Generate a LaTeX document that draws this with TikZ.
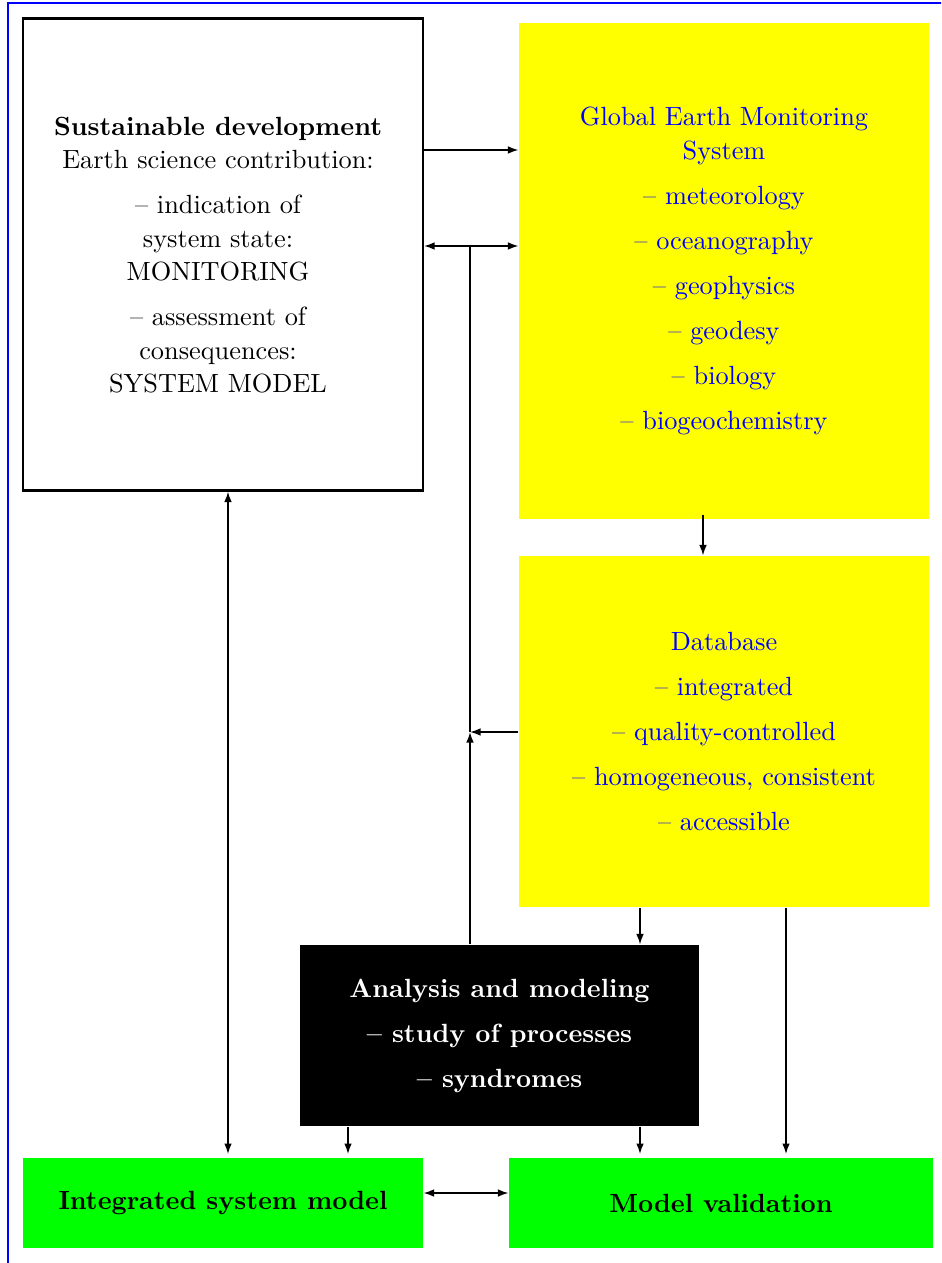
\documentclass[tikz,border=0pt]{standalone}
\usetikzlibrary{arrows.meta}
\definecolor{ybox}{RGB}{255,255,0}
\definecolor{gbox}{RGB}{0,255,0}
\definecolor{btext}{RGB}{0,0,255}
\tikzset{
  arr/.style={line width=0.6pt,-{Latex[length=4pt,width=2.9pt]}},
  darr/.style={line width=0.6pt,{Latex[length=4pt,width=2.9pt]}-{Latex[length=4pt,width=2.9pt]}},
  plain/.style={line width=0.6pt},
  whitebox/.style={draw=black,line width=0.8pt,fill=white,inner sep=0pt,align=center},
  yellowbox/.style={fill=ybox,text=btext,inner sep=0pt,align=center},
  blackbox/.style={fill=black,text=white,inner sep=0pt,align=center,font=\bfseries},
  greenbox/.style={fill=gbox,text=black,inner sep=0pt,align=center,font=\bfseries},
}
\begin{document}
\begin{tikzpicture}[x=0.38pt,y=-0.38pt]
\useasboundingbox (0,0) rectangle (941,1263);
\clip (0,0) rectangle (941,1263);
\draw[draw=btext,line width=0.9pt] (8,3) rectangle (1000,1300);

\node[whitebox,minimum width=152pt,minimum height=179.36pt] (L) at (223,254.5) {};
\node[align=center] (Lt) at (218,255) {\textbf{Sustainable development}\\[0.7pt]
Earth science contribution:\\[5.1pt]
-- indication of\\[0.7pt] system state:\\[0.7pt] MONITORING\\[5.1pt]
-- assessment of\\[0.7pt] consequences:\\[0.7pt] SYSTEM MODEL};

\node[yellowbox,minimum width=155.8pt,minimum height=188.48pt] (G) at (724,271) {Global Earth Monitoring\\[0.7pt] System\\[5.1pt]
-- meteorology\\[5.1pt] -- oceanography\\[5.1pt] -- geophysics\\[5.1pt] -- geodesy\\[5.1pt] -- biology\\[5.1pt] -- biogeochemistry};

\node[yellowbox,minimum width=155.8pt,minimum height=133.38pt] (D) at (724,731.5) {Database\\[5.1pt] -- integrated\\[5.1pt] -- quality-controlled\\[5.1pt] -- homogeneous, consistent\\[5.1pt] -- accessible};

\node[blackbox,minimum width=151.62pt,minimum height=68.78pt] (A) at (499.5,1035.5) {Analysis and modeling\\[5.1pt] -- study of processes\\[5.1pt] -- syndromes};

\node[greenbox,minimum width=152pt,minimum height=34.2pt] (GL) at (223,1203) {Integrated system model};
\node[greenbox,minimum width=161.12pt,minimum height=34.2pt] (R) at (721,1203) {\raisebox{-1pt}{Model validation}};

\coordinate (h1) at (0,150);
\coordinate (h2) at (0,246);
\coordinate (h3) at (0,732);
\coordinate (h4) at (0,1193);
\coordinate (v1) at (470,0);
\coordinate (v2) at (703,0);
\coordinate (v3) at (640,0);
\coordinate (v4) at (786,0);
\coordinate (v5) at (348,0);
\coordinate (v6) at (228,0);
\coordinate (J) at (v1 |- h3);

\draw[arr] (L.east |- h1) -- (G.west |- h1);
\draw[darr] (L.east |- h2) -- (G.west |- h2);
\draw[arr] (A.north -| v1) -- (J);
\draw[plain] (J) -- (v1 |- h2);
\draw[arr] (D.west |- h3) -- (J);
\draw[arr] ([yshift=1.9pt]G.south -| v2) -- (D.north -| v2);
\draw[arr] (D.south -| v3) -- (A.north -| v3);
\draw[arr] (D.south -| v4) -- ([yshift=1.3pt]R.north -| v4);
\draw[darr] (L.south -| v6) -- ([yshift=1.3pt]GL.north -| v6);
\draw[arr] (A.south -| v5) -- ([yshift=1.3pt]GL.north -| v5);
\draw[arr] (A.south -| v3) -- ([yshift=1.3pt]R.north -| v3);
\draw[darr] (GL.east |- h4) -- (R.west |- h4);
\end{tikzpicture}
\end{document}
